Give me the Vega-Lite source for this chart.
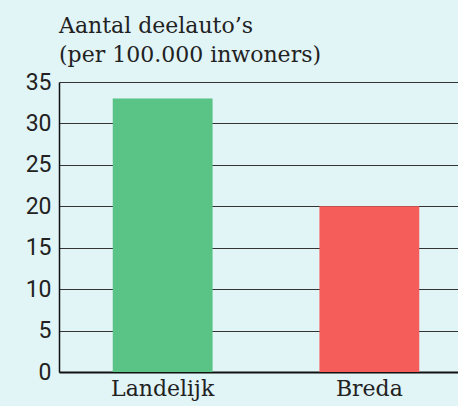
{
  "$schema": "https://vega.github.io/schema/vega-lite/v6.json",
  "autosize": {"type": "none"},
  "padding": {"left": 59, "top": 82, "right": 0, "bottom": 34},
  "width": 414,
  "height": 290,
  "background": "#e1f4f6",
  "title": {
    "text": ["Aantal deelauto’s", "(per 100.000 inwoners)"],
    "anchor": "start",
    "frame": "group",
    "font": "DejaVu Serif",
    "fontSize": 22,
    "fontWeight": "normal",
    "color": "#222222",
    "lineHeight": 29,
    "offset": 4
  },
  "config": {
    "view": {"stroke": null},
    "axis": {"labelFont": "Roboto", "labelColor": "#222222"}
  },
  "data": {
    "values": [
      {"regio": "Landelijk", "aantal": 33},
      {"regio": "Breda", "aantal": 20}
    ]
  },
  "mark": {"type": "bar"},
  "encoding": {
    "x": {
      "field": "regio",
      "type": "nominal",
      "sort": null,
      "scale": {"paddingInner": 0.517, "paddingOuter": 0.26},
      "axis": {
        "title": null,
        "labelAngle": 0,
        "labelFont": "DejaVu Serif",
        "labelFontSize": 22,
        "labelPadding": 6,
        "ticks": false,
        "domainColor": "#111111",
        "domainWidth": 2
      }
    },
    "y": {
      "field": "aantal",
      "type": "quantitative",
      "scale": {"domain": [0, 35], "nice": false},
      "axis": {
        "title": null,
        "values": [0, 5, 10, 15, 20, 25, 30, 35],
        "labelFontSize": 23,
        "labelPadding": 8,
        "ticks": false,
        "domainColor": "#111111",
        "domainWidth": 1.5,
        "grid": true,
        "gridColor": "#333333",
        "gridWidth": 1,
        "gridOpacity": 1
      }
    },
    "color": {
      "field": "regio",
      "type": "nominal",
      "scale": {"domain": ["Landelijk", "Breda"], "range": ["#59c485", "#f55d5a"]},
      "legend": null
    }
  }
}
